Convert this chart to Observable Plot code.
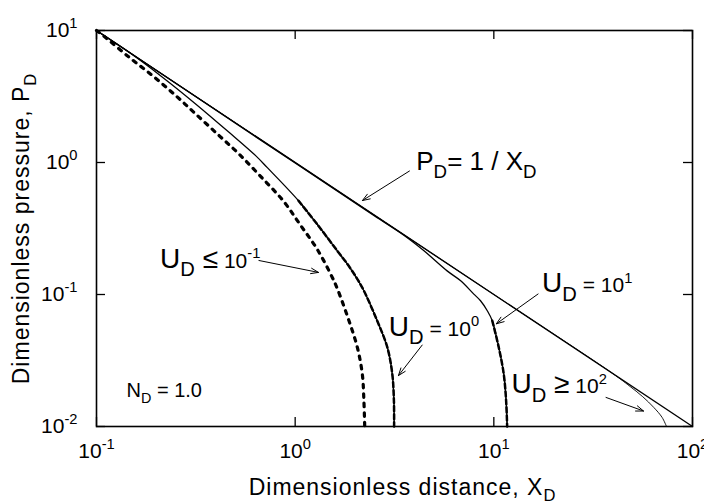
<!DOCTYPE html>
<html><head><meta charset="utf-8">
<script src="https://cdn.jsdelivr.net/npm/d3@7"></script>
<script src="https://cdn.jsdelivr.net/npm/@observablehq/plot@0.6"></script>
<style>body{margin:0;background:#fff}</style>
</head><body><div id="chart"></div>
<script>
// ---- data ----
const xTicks = [0.1, 1, 10, 100];
const xTickLabels = ["10^{-1}", "10^{0}", "10^{1}", "10^{2}"];
const yTicks = [0.01, 0.1, 1, 10];
const yTickLabels = ["10^{-2}", "10^{-1}", "10^{0}", "10^{1}"];

// P_D = 1 / X_D reference line
const refX = [0.1, 100];
const refP = [10, 0.01];

// U_D <= 10^-1 (dotted)
const lowX = [0.1, 0.1114, 0.1459, 0.1914, 0.2506, 0.3155, 0.414, 0.5212, 0.6699, 0.871, 1.064, 1.294, 1.538, 1.629, 1.866, 2.056, 2.178, 2.218, 2.239];
const lowP = [10, 8.81, 6.27, 4.55, 3.21, 2.333, 1.6, 1.161, 0.785, 0.512, 0.335, 0.219, 0.1346, 0.111, 0.0632, 0.0397, 0.0249, 0.01567, 0.01];

// U_D = 10^0
const u1X = [0.1, 0.1459, 0.2148, 0.3155, 0.4645, 0.6324, 0.7244, 1.04, 1.294, 1.629, 1.832, 2.056, 2.218, 2.588, 2.911, 3.083, 3.141, 3.148];
const u1P = [10, 6.84, 4.43, 2.78, 1.694, 1.127, 0.914, 0.513, 0.339, 0.2143, 0.170, 0.1309, 0.1067, 0.0632, 0.0397, 0.0249, 0.01567, 0.01];
const u1DashFrom = 1.0;

// U_D = 10^1
const u10X = [0.1, 1.0, 2.5, 3.524, 4.45, 5.82, 6.81, 7.93, 8.57, 9.27, 9.82, 10.59, 11.22, 11.53, 11.67];
const u10P = [10, 0.99, 0.395, 0.281, 0.2143, 0.151, 0.127, 0.1007, 0.0897, 0.0753, 0.0632, 0.0397, 0.0249, 0.01567, 0.01];
const u10DashFrom = 9.5;

// U_D >= 10^2
const u100X = [0.1, 10, 39.8, 47.9, 56.2, 63.8, 70.3, 74.0];
const u100P = [10, 0.1, 0.0251, 0.0204, 0.0168, 0.01396, 0.01172, 0.01];

// annotations
const uLabels = ["U_{D} ≤!{ 10^{-1}}", "U_{D}!{ = 10^{0}}", "U_{D}!{ = 10^{1}}", "U_{D} ≥!{ 10^{2}}"];
const uLabelX = [0.209, 2.96, 17.5, 12.27];
const uLabelY = [0.160, 0.0489, 0.1036, 0.0178];
const pLabel = ["P_{D}= 1 / X_{D}"];
const pLabelX = [4.07];
const pLabelY = [0.87];
const nLabel = ["N_{D} = 1.0"];
const nLabelX = [0.1416];
const nLabelY = [0.0166];

const arrowX1 = [3.76, 0.657, 4.36, 16.7, 36.7];
const arrowY1 = [0.862, 0.181, 0.0414, 0.1009, 0.0166];
const arrowX2 = [2.18, 1.31, 3.31, 10.3, 56.7];
const arrowY2 = [0.515, 0.147, 0.0243, 0.06, 0.0131];

const xTitle = "Dimensionless distance, X_{D}";
const yTitle = "Dimensionless pressure, P_{D}";

// ---- tables ----
const rows = (xs, ps) => xs.map((x, i) => ({x, p: ps[i]}));
const ref = rows(refX, refP);
const low = rows(lowX, lowP);
const u1 = rows(u1X, u1P);
const u10 = rows(u10X, u10P);
const u100 = rows(u100X, u100P);
const uText = uLabels.map((t, i) => ({t, x: uLabelX[i], y: uLabelY[i]}));
const pText = pLabel.map((t, i) => ({t, x: pLabelX[i], y: pLabelY[i]}));
const nText = nLabel.map((t, i) => ({t, x: nLabelX[i], y: nLabelY[i]}));
const arrows = arrowX1.map((d, i) => ({x1: d, y1: arrowY1[i], x2: arrowX2[i], y2: arrowY2[i]}));

const lineOpts = {x: "x", y: "p", stroke: "black", curve: "catmull-rom"};

const svg = Plot.plot({
  width: 704, height: 504,
  marginLeft: 96, marginRight: 12, marginTop: 30, marginBottom: 78,
  style: {fontFamily: "'Liberation Sans', Arial, Helvetica, sans-serif", background: "white", color: "black"},
  x: {type: "log", domain: [0.1, 100], label: null},
  y: {type: "log", domain: [0.01, 10], label: null},
  marks: [
    Plot.line(ref, {...lineOpts, strokeWidth: 1.4}),
    Plot.line(low, {...lineOpts, strokeWidth: 3.2, strokeDasharray: "3.5,6"}),
    Plot.line(u1, {...lineOpts, strokeWidth: 1.3}),
    Plot.line(u1.filter(d => d.x >= u1DashFrom), {...lineOpts, strokeWidth: 2.5, strokeDasharray: "5,3"}),
    Plot.line(u10, {...lineOpts, strokeWidth: 1.3}),
    Plot.line(u10.filter(d => d.x >= u10DashFrom), {...lineOpts, strokeWidth: 2.5, strokeDasharray: "5,3"}),
    Plot.line(u100, {...lineOpts, strokeWidth: 0.9}),
    Plot.frame({stroke: "black", strokeWidth: 1.6}),
    Plot.tickX(xTicks, {x: d => d, insetTop: 387, stroke: "black", strokeWidth: 1.3}),
    Plot.tickX(xTicks, {x: d => d, insetBottom: 387, stroke: "black", strokeWidth: 1.3}),
    Plot.tickY(yTicks, {y: d => d, insetRight: 587, stroke: "black", strokeWidth: 1.3}),
    Plot.tickY(yTicks, {y: d => d, insetLeft: 587, stroke: "black", strokeWidth: 1.3}),
    Plot.arrow(arrows, {x1: "x1", y1: "y1", x2: "x2", y2: "y2", stroke: "black", strokeWidth: 1, headLength: 12, headAngle: 40, bend: 0}),
    Plot.text(uText, {x: "x", y: "y", text: "t", textAnchor: "start", lineAnchor: "bottom", fontSize: 28, fill: "black"}),
    Plot.text(pText, {x: "x", y: "y", text: "t", textAnchor: "start", lineAnchor: "bottom", fontSize: 26, fill: "black"}),
    Plot.text(nText, {x: "x", y: "y", text: "t", textAnchor: "start", lineAnchor: "bottom", fontSize: 20, fill: "black"}),
    Plot.axisX({ticks: xTicks, tickFormat: d => xTickLabels[xTicks.indexOf(d)], tickSize: 0, tickPadding: 17, fontSize: 21, label: null}),
    Plot.axisY({ticks: yTicks, tickFormat: d => yTickLabels[yTicks.indexOf(d)], tickSize: 0, tickPadding: 19, fontSize: 21, label: null}),
    Plot.text([xTitle], {text: d => d, frameAnchor: "bottom", dy: 68, dx: 8, textAnchor: "middle", lineAnchor: "bottom", fontSize: 23, fill: "black"}),
    Plot.text([yTitle], {text: d => d, frameAnchor: "left", dx: -75, rotate: -90, textAnchor: "middle", lineAnchor: "middle", fontSize: 23, fill: "black"})
  ]
});

// ---- rich text: ^{sup}, _{sub}, !{smaller} ----
function parseRich(s, k = 1, t = 0, out = []) {
  let i = 0, buf = "";
  const flush = () => { if (buf) out.push({text: buf, k, t}); buf = ""; };
  while (i < s.length) {
    const c = s[i];
    if ((c === "^" || c === "_" || c === "!") && s[i + 1] === "{") {
      let depth = 0, j = i + 1;
      for (; j < s.length; j++) {
        if (s[j] === "{") depth++;
        else if (s[j] === "}") { depth--; if (depth === 0) break; }
      }
      flush();
      const inner = s.slice(i + 2, j);
      if (c === "^") parseRich(inner, k * 0.7, t - 0.45 * k, out);
      else if (c === "_") parseRich(inner, k * 0.72, t + 0.3 * k, out);
      else parseRich(inner, k * 0.75, t, out);
      i = j + 1;
    } else { buf += c; i++; }
  }
  flush();
  return out;
}
function applyRich(el) {
  const s = el.textContent;
  if (!/[\^_!]\{/.test(s)) return;
  const parts = parseRich(s);
  el.textContent = "";
  el.style.whiteSpace = "pre";
  let cur = 0;
  for (const p of parts) {
    const ts = document.createElementNS("http://www.w3.org/2000/svg", "tspan");
    ts.setAttribute("font-size", p.k + "em");
    if (p.t !== cur) ts.setAttribute("dy", ((p.t - cur) / p.k) + "em");
    ts.textContent = p.text;
    el.appendChild(ts);
    cur = p.t;
  }
}
svg.querySelectorAll("text").forEach(el => {
  if (el.textContent.startsWith("Dimensionless")) el.style.letterSpacing = "1px";
  applyRich(el);
});

document.getElementById("chart").appendChild(svg);
</script>
</body></html>
